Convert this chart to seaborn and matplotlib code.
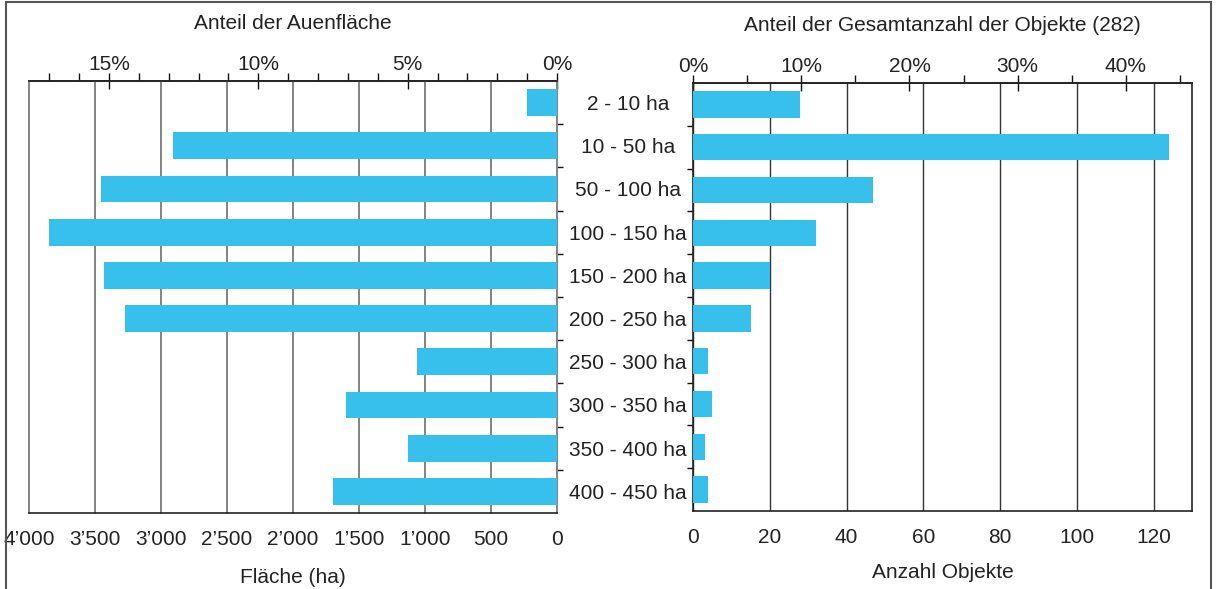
import matplotlib
matplotlib.use("Agg")
import matplotlib.pyplot as plt
import seaborn as sns
import pandas as pd
import numpy as np
from matplotlib.ticker import FuncFormatter, FixedLocator
from matplotlib.patches import Rectangle

# Daten
categories = ["2 - 10 ha", "10 - 50 ha", "50 - 100 ha", "100 - 150 ha", "150 - 200 ha",
              "200 - 250 ha", "250 - 300 ha", "300 - 350 ha", "350 - 400 ha", "400 - 450 ha"]
flaeche_ha = [227, 2909, 3455, 3848, 3432, 3273, 1061, 1598, 1129, 1697]
anzahl_objekte = [28, 124, 47, 32, 20, 15, 4, 5, 3, 4]
TOTAL_OBJ = 282
TOTAL_HA = sum(flaeche_ha)

BAR = "#37c0eb"
TXT = "#222222"
FS = 15

sns.set_style("white")
plt.rcParams["font.family"] = ["Liberation Sans", "DejaVu Sans"]
plt.rcParams["text.color"] = TXT
plt.rcParams["xtick.color"] = "#111111"
plt.rcParams["ytick.color"] = "#111111"
plt.rcParams["xtick.labelcolor"] = TXT
plt.rcParams["ytick.labelcolor"] = TXT
plt.rcParams["axes.labelcolor"] = TXT

W, H = 1216, 589
fig = plt.figure(figsize=(W / 100, H / 100), dpi=100)

ax_l = fig.add_axes([29 / W, 1 - 513 / H, (557 - 29) / W, (513 - 81) / H])
ax_r = fig.add_axes([693 / W, 1 - 511 / H, (1192 - 693) / W, (511 - 83) / H])

df = pd.DataFrame({"kat": categories, "ha": flaeche_ha, "n": anzahl_objekte})

sns.barplot(data=df, x="ha", y="kat", ax=ax_l, color=BAR, saturation=1,
            width=0.62, orient="h", zorder=3, linewidth=0, edgecolor="none")
sns.barplot(data=df, x="n", y="kat", ax=ax_r, color=BAR, saturation=1,
            width=0.62, orient="h", zorder=3, linewidth=0, edgecolor="none")

thou = FuncFormatter(lambda v, p: f"{int(v):,}".replace(",", "\u2019"))

# ---- linkes Panel
ax_l.set_xlim(4000, 0)
ax_l.set_ylim(len(categories) - 0.5, -0.5)
ax_l.set_xticks(np.arange(0, 4001, 500))
ax_l.xaxis.set_major_formatter(thou)
ax_l.grid(axis="x", color="#6e6e6e", linewidth=1.2, zorder=0)
for gl in ax_l.get_xgridlines():
    gl.set_clip_on(False)
ax_l.set_axisbelow(True)
ax_l.tick_params(axis="x", direction="inout", length=14, width=1, labelsize=FS, pad=5)
ax_l.set_xlabel("Fläche (ha)", fontsize=FS, labelpad=14)
ax_l.yaxis.tick_right()
ax_l.set_ylabel("")
ax_l.tick_params(axis="y", which="major", length=0, labelsize=FS, pad=51)
for t in ax_l.get_yticklabels():
    t.set_horizontalalignment("center")
ax_l.yaxis.set_minor_locator(FixedLocator(np.arange(0.5, len(categories) - 1, 1)))
ax_l.tick_params(axis="y", which="minor", direction="out", length=4, width=1, left=False, right=True)
ax_l.spines["left"].set_visible(False)
for s in ["right", "bottom", "top"]:
    ax_l.spines[s].set_color("#222222")
    ax_l.spines[s].set_linewidth(1.2)
ax_l.spines["right"].set_color("#888888")

top_l = ax_l.secondary_xaxis("top", functions=(lambda v: v / TOTAL_HA * 100,
                                               lambda p: p * TOTAL_HA / 100))
top_l.set_xticks([0, 5, 10, 15])
top_l.xaxis.set_major_formatter(FuncFormatter(lambda v, p: f"{int(v)}%"))
top_l.xaxis.set_minor_locator(FixedLocator(np.arange(0, 18, 1)))
top_l.tick_params(which="major", direction="inout", length=12, width=1, labelsize=FS, pad=-1)
top_l.tick_params(which="minor", direction="out", length=6, width=1)
top_l.spines["top"].set_linewidth(1.2)
top_l.set_xlabel("Anteil der Auenfläche", fontsize=FS, labelpad=19)

# ---- rechtes Panel
ax_r.set_xlim(0, 130)
ax_r.set_ylim(len(categories) - 0.5, -0.5)
ax_r.set_xticks(np.arange(0, 121, 20))
ax_r.grid(axis="x", color="#333333", linewidth=1.0, zorder=0)
ax_r.set_axisbelow(True)
ax_r.tick_params(axis="x", direction="inout", length=14, width=1, labelsize=FS, pad=5)
ax_r.set_xlabel("Anzahl Objekte", fontsize=FS, labelpad=12)
ax_r.set_ylabel("")
ax_r.set_yticks(range(len(categories)))
ax_r.set_yticklabels([])
ax_r.tick_params(axis="y", which="major", length=0)
ax_r.yaxis.set_minor_locator(FixedLocator(np.arange(0.5, len(categories) - 1, 1)))
ax_r.tick_params(axis="y", which="minor", direction="out", length=4, width=1, left=True)
for s in ["left", "right", "bottom", "top"]:
    ax_r.spines[s].set_color("#222222")
    ax_r.spines[s].set_linewidth(1.2)

top_r = ax_r.secondary_xaxis("top", functions=(lambda v: v / TOTAL_OBJ * 100,
                                               lambda p: p * TOTAL_OBJ / 100))
top_r.set_xticks([0, 10, 20, 30, 40])
top_r.xaxis.set_major_formatter(FuncFormatter(lambda v, p: f"{int(v)}%"))
top_r.xaxis.set_minor_locator(FixedLocator(np.arange(5, 46, 10)))
top_r.tick_params(which="major", direction="inout", length=12, width=1, labelsize=FS, pad=-1)
top_r.tick_params(which="minor", direction="out", length=6, width=1)
top_r.spines["top"].set_linewidth(1.2)
top_r.set_xlabel("Anteil der Gesamtanzahl der Objekte (282)", fontsize=FS, labelpad=19)

# Rahmen um die Grafik
fig.patches.append(Rectangle((6 / W, -0.1), (1211 - 6) / W, 1.1 - 2 / H,
                             transform=fig.transFigure, fill=False,
                             edgecolor="#555555", linewidth=1.5))

fig.savefig("out.png", dpi=100)
